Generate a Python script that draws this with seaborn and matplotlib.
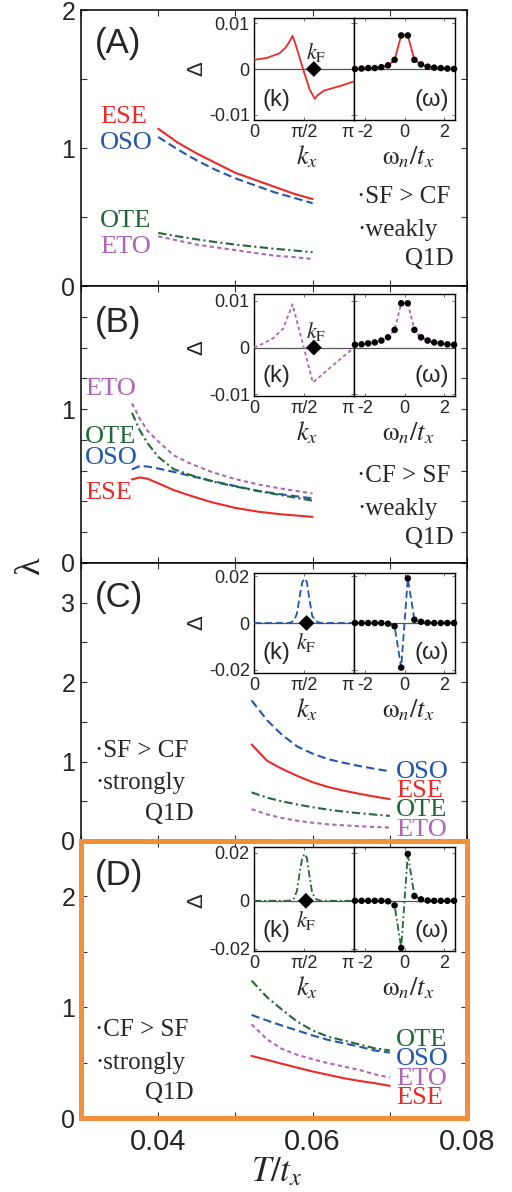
import numpy as np
import pandas as pd
import matplotlib
matplotlib.use("Agg")
import matplotlib.pyplot as plt
import seaborn as sns
from matplotlib.ticker import MultipleLocator, FixedLocator

# ---------------- data ----------------
T_A = [0.040, 0.0425, 0.045, 0.0475, 0.050, 0.0525, 0.055, 0.0575, 0.060]
ESE_A = [1.14, 1.04, 0.96, 0.89, 0.82, 0.77, 0.72, 0.67, 0.63]
OSO_A = [1.08, 0.99, 0.91, 0.84, 0.78, 0.73, 0.68, 0.64, 0.60]
OTE_A = [0.385, 0.36, 0.338, 0.318, 0.30, 0.285, 0.27, 0.258, 0.245]
ETO_A = [0.36, 0.33, 0.30, 0.28, 0.26, 0.24, 0.22, 0.21, 0.195]

T_B = [0.0366, 0.0376, 0.0386, 0.0400, 0.0420, 0.0440, 0.0470, 0.0500, 0.0530, 0.0560, 0.0600]
ETO_B = [1.037, 0.94, 0.86, 0.79, 0.70, 0.65, 0.59, 0.545, 0.51, 0.483, 0.452]
OTE_B = [0.976, 0.864, 0.78, 0.69, 0.61, 0.575, 0.53, 0.497, 0.467, 0.44, 0.405]
OSO_B = [0.608, 0.630, 0.627, 0.614, 0.592, 0.568, 0.533, 0.50, 0.468, 0.446, 0.42]
ESE_B = [0.543, 0.556, 0.548, 0.518, 0.474, 0.44, 0.394, 0.358, 0.333, 0.316, 0.30]

T_CD = [0.0521, 0.0541, 0.056, 0.058, 0.060, 0.062, 0.064, 0.066, 0.068, 0.070]
OSO_C = [1.77, 1.52, 1.34, 1.19, 1.10, 1.03, 0.985, 0.945, 0.91, 0.877]
ESE_C = [1.215, 1.01, 0.91, 0.82, 0.74, 0.68, 0.635, 0.595, 0.56, 0.527]
OTE_C = [0.612, 0.545, 0.50, 0.46, 0.425, 0.395, 0.37, 0.35, 0.333, 0.316]
ETO_C = [0.40, 0.335, 0.29, 0.255, 0.23, 0.21, 0.197, 0.186, 0.177, 0.169]

OTE_D = [1.24, 1.09, 0.98, 0.87, 0.79, 0.735, 0.70, 0.665, 0.63, 0.61]
OSO_D = [0.93, 0.88, 0.835, 0.79, 0.745, 0.705, 0.675, 0.645, 0.61, 0.59]
ETO_D = [0.845, 0.71, 0.625, 0.57, 0.53, 0.495, 0.465, 0.435, 0.395, 0.365]
ESE_D = [0.56, 0.525, 0.49, 0.455, 0.42, 0.39, 0.36, 0.335, 0.315, 0.29]

# inset: gap function vs k_x
K_A = [0, 0.4, 0.8, 1.0, 1.1, 1.21, 1.3, 1.54, 1.75, 1.91, 2.0, 2.2, 2.5, 2.8, 3.1416]
DK_A = [0.002, 0.0024, 0.0034, 0.0047, 0.0058, 0.0072, 0.0055, 0.0, -0.0045, -0.0065,
        -0.0057, -0.0047, -0.0041, -0.0035, -0.0027]
K_B = [0, 0.3, 0.6, 0.92, 1.21, 1.85, 2.5, 3.1416]
DK_B = [0, 0.0009, 0.002, 0.0041, 0.0093, -0.0075, -0.0037, 0.0]
K_CD = [0, 1.1, 1.25, 1.35, 1.45, 1.52, 1.59, 1.66, 1.73, 1.83, 1.95, 2.1, 3.1416]
DK_C = [0, 0, 0.0008, 0.004, 0.0125, 0.0175, 0.019, 0.0175, 0.011, 0.003, 0.0007, 0, 0]
DK_D = [0, 0, 0.0008, 0.0042, 0.013, 0.018, 0.0196, 0.018, 0.0115, 0.0032, 0.0007, 0, 0]
KF = [1.88, 1.88, 1.65, 1.63]

# inset: gap function vs Matsubara frequency
W_N = [-2.5, -2.167, -1.833, -1.5, -1.167, -0.833, -0.5, -0.167,
       0.167, 0.5, 0.833, 1.167, 1.5, 1.833, 2.167, 2.5]
DW_A = [0.0, 0.0001, 0.0002, 0.0002, 0.0004, 0.0008, 0.002, 0.0073,
        0.0073, 0.002, 0.001, 0.0005, 0.0003, 0.0002, 0.0001, 0.0]
DW_B = [0.0006, 0.0007, 0.0009, 0.0011, 0.0015, 0.0022, 0.0038, 0.0095,
        0.0095, 0.0038, 0.0022, 0.0015, 0.0011, 0.0009, 0.0007, 0.0006]
DW_C = [0, 0, 0, 0, 0, -0.0003, -0.0014, -0.019,
        0.019, 0.0014, 0.0005, 0.0001, 0, 0, 0, 0]
DW_D = [0, 0, 0, 0, 0, -0.0002, -0.0019, -0.0197,
        0.0196, 0.002, 0.0006, 0.0001, 0, 0, 0, 0]

XTICKS = [0.04, 0.06, 0.08]
XTICKLABELS = ["0.04", "0.06", "0.08"]
KTICKLABELS = ["0", "π/2", "π"]
WTICKS = [-2, 0, 2]

# ---------------- style ----------------
sns.set_style("ticks")
plt.rcParams['font.family'] = ['Liberation Sans', 'DejaVu Sans']
plt.rcParams['mathtext.fontset'] = 'stix'
plt.rcParams['xtick.direction'] = 'in'
plt.rcParams['ytick.direction'] = 'in'

COL = {"ESE": "#ec2a2a", "OSO": "#2257ab", "OTE": "#23683a", "ETO": "#b065b8"}
LS = {"ESE": "-", "OSO": (0, (4, 2)), "OTE": (0, (4, 1.6, 1, 1.6)), "ETO": (0, (2, 1.6))}
ORANGE = "#f0903a"
SERIF = ['Liberation Serif', 'DejaVu Serif']

W, H = 512, 1192
fig = plt.figure(figsize=(W / 100, H / 100), dpi=100)


def rect(l, t, r, b):
    return [l / W, 1 - b / H, (r - l) / W, (b - t) / H]


def ftext(px, py, s, **kw):
    fig.text(px / W, 1 - py / H, s, **kw)


panels = [
    dict(name="A", box=(81, 10, 467, 286), ylim=(0, 2), ymaj=[0, 1, 2], ymin=0.5,
         T=T_A, series={"ESE": ESE_A, "OSO": OSO_A, "OTE": OTE_A, "ETO": ETO_A},
         ins=(18, 120), iylim=(-0.0111, 0.0111), iticks=[-0.01, 0, 0.01],
         itl=["-0.01", "0", "0.01"], K=K_A, DK=DK_A, DW=DW_A, kind="ESE", kf=KF[0],
         kfabove=True),
    dict(name="B", box=(81, 286, 467, 563), ylim=(0, 1.8), ymaj=[0, 1], ymin=0.2,
         T=T_B, series={"ESE": ESE_B, "OSO": OSO_B, "OTE": OTE_B, "ETO": ETO_B},
         ins=(294, 396), iylim=(-0.0104, 0.0115), iticks=[-0.01, 0, 0.01],
         itl=["-0.01", "0", "0.01"], K=K_B, DK=DK_B, DW=DW_B, kind="ETO", kf=KF[1],
         kfabove=True),
    dict(name="C", box=(81, 563, 467, 841), ylim=(0, 3.5), ymaj=[0, 1, 2, 3], ymin=0.5,
         T=T_CD, series={"ESE": ESE_C, "OSO": OSO_C, "OTE": OTE_C, "ETO": ETO_C},
         ins=(573, 673), iylim=(-0.0213, 0.0213), iticks=[-0.02, 0, 0.02],
         itl=["-0.02", "0", "0.02"], K=K_CD, DK=DK_C, DW=DW_C, kind="OSO", kf=KF[2],
         kfabove=False),
    dict(name="D", box=(81, 841, 467, 1118), ylim=(0, 2.5), ymaj=[0, 1, 2], ymin=0.5,
         T=T_CD, series={"ESE": ESE_D, "OSO": OSO_D, "OTE": OTE_D, "ETO": ETO_D},
         ins=(847, 951), iylim=(-0.021, 0.0225), iticks=[-0.02, 0, 0.02],
         itl=["-0.02", "0", "0.02"], K=K_CD, DK=DK_D, DW=DW_D, kind="OTE", kf=KF[3],
         kfabove=False),
]

for i, p in enumerate(panels):
    ax = fig.add_axes(rect(*p["box"]))
    for key, vals in p["series"].items():
        sns.lineplot(x=p["T"], y=vals, ax=ax, color=COL[key], linestyle=LS[key],
                     linewidth=1.5)
    ax.set_xlim(0.03, 0.08)
    ax.set_ylim(*p["ylim"])
    ax.xaxis.set_major_locator(FixedLocator(XTICKS))
    ax.xaxis.set_minor_locator(MultipleLocator(0.01))
    ax.yaxis.set_major_locator(FixedLocator(p["ymaj"]))
    ax.yaxis.set_minor_locator(MultipleLocator(p["ymin"]))
    ax.tick_params(which="both", top=True, right=True, direction="in",
                   length=4, width=0.8, color="#333333")
    ax.tick_params(axis="y", labelsize=18, pad=4)
    ax.set_yticklabels([str(v) for v in p["ymaj"]])
    if p["name"] == "D":
        ax.set_xticklabels(XTICKLABELS)
        ax.tick_params(axis="x", labelsize=21, pad=7)
        for s in ax.spines.values():
            s.set_color(ORANGE)
            s.set_linewidth(3.6)
    else:
        ax.set_xticklabels([])
        for s in ax.spines.values():
            s.set_color("black")
            s.set_linewidth(1.1)
    ax.set_xlabel("")
    ax.set_ylabel("")

    # insets
    it, ib = p["ins"]
    axk = fig.add_axes(rect(254, it, 354, ib))
    axw = fig.add_axes(rect(354, it, 455, ib))
    col = COL[p["kind"]]
    for a in (axk, axw):
        a.axhline(0, color="#555555", lw=0.9, zorder=1)
        a.set_ylim(*p["iylim"])
        a.set_yticks(p["iticks"])
        a.tick_params(which="both", direction="in", length=2.5, width=0.6,
                      top=True, right=True, labelsize=13, pad=3, color="#555555")
        for s in a.spines.values():
            s.set_linewidth(1.0)
            s.set_color("black")
        a.set_facecolor("white")
    sns.lineplot(x=p["K"], y=p["DK"], ax=axk, color=col, linestyle=LS[p["kind"]],
                 linewidth=1.3, zorder=3)
    sns.scatterplot(x=[p["kf"]], y=[0], ax=axk, marker="D", color="black", s=65,
                    edgecolor="none", zorder=5)
    axk.set_xlim(0, np.pi)
    axk.set_xticks([0, np.pi / 2, np.pi])
    axk.set_xticklabels(KTICKLABELS)
    axk.get_xticklabels()[2].set_horizontalalignment("right")
    axk.set_yticklabels(p["itl"])
    sns.lineplot(x=W_N, y=p["DW"], ax=axw, color=col, linestyle=LS[p["kind"]],
                 linewidth=1.3, zorder=3)
    sns.scatterplot(x=W_N, y=p["DW"], ax=axw, color="black", s=22,
                    edgecolor="none", zorder=5, clip_on=False)
    axw.set_xlim(-2.55, 2.55)
    axw.set_xticks(WTICKS)
    axw.set_xticklabels([str(v) for v in WTICKS])
    axw.set_yticklabels([])
    for a in (axk, axw):
        a.set_xlabel("")
        a.set_ylabel("")

    zero_y = it + (ib - it) * p["iylim"][1] / (p["iylim"][1] - p["iylim"][0])
    ftext(197, zero_y, "Δ", rotation=90, fontsize=16, ha="center", va="center")
    ftext(263, ib - 20, "(k)", fontsize=17, ha="left", va="center")
    ftext(449, ib - 20, "(ω)", fontsize=17, ha="right", va="center")
    ftext(307, ib + 37, r"$k_x$", fontsize=19, ha="center", va="center")
    ftext(408, ib + 37, r"$\mathrm{\omega}_n/t_x$", fontsize=19, ha="center", va="center")
    kfx = 254 + (p["kf"] / np.pi) * 100
    if p["kfabove"]:
        ftext(kfx + 2, zero_y - 16, r"$k_\mathrm{F}$", fontsize=16, ha="center", va="center")
    else:
        ftext(kfx, zero_y + 20, r"$k_\mathrm{F}$", fontsize=16, ha="center", va="center")

# panel letters
for name, y in zip("ABCD", [43, 322, 598, 875]):
    ftext(95, y, f"({name})", fontsize=25, ha="left", va="center")

# series labels
labels = [
    ("ESE", 100, 117), ("OSO", 100, 143), ("OTE", 100, 221), ("ETO", 100, 247),
    ("ETO", 85, 389), ("OTE", 85, 437), ("OSO", 85, 458), ("ESE", 85, 493),
    ("OSO", 396, 772), ("ESE", 396, 791), ("OTE", 396, 810), ("ETO", 396, 830),
    ("OTE", 396, 1040), ("OSO", 396, 1059), ("ETO", 396, 1079), ("ESE", 396, 1098),
]
for key, x, y in labels:
    ftext(x, y, key, fontsize=19, color=COL[key], family=SERIF, ha="left", va="center")

# annotations
notes = [
    ("·SF > CF", 357, 197, "left"), ("·weakly", 357, 230, "left"), ("Q1D", 454, 259, "right"),
    ("·CF > SF", 357, 476, "left"), ("·weakly", 357, 509, "left"), ("Q1D", 454, 538, "right"),
    ("·SF > CF", 95, 751, "left"), ("·strongly", 95, 783, "left"), ("Q1D", 145, 814, "left"),
    ("·CF > SF", 95, 1030, "left"), ("·strongly", 95, 1063, "left"), ("Q1D", 145, 1093, "left"),
]
for s, x, y, ha in notes:
    ftext(x, y, s, fontsize=18, family=SERIF, ha=ha, va="center")

# axis labels
ftext(30, 565, "λ", fontsize=26, family=SERIF, rotation=90, ha="center", va="center")
ftext(277, 1172, r"$T/t_x$", fontsize=25, ha="center", va="center")

fig.savefig("out.png", dpi=100)
